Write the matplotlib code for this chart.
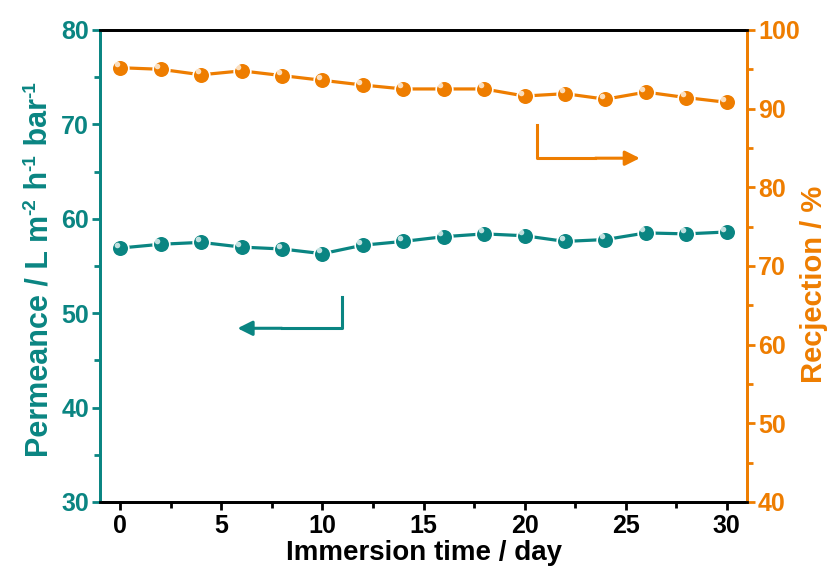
import matplotlib.pyplot as plt
from matplotlib.transforms import ScaledTranslation, IdentityTransform

plt.rcParams['font.family'] = ['Liberation Sans', 'DejaVu Sans']
plt.rcParams['font.weight'] = 'bold'

days = [0, 2, 4, 6, 8, 10, 12, 14, 16, 18, 20, 22, 24, 26, 28, 30]
permeance = [56.9, 57.3, 57.5, 57.0, 56.8, 56.3, 57.2, 57.6,
             58.1, 58.4, 58.2, 57.6, 57.8, 58.5, 58.4, 58.6]
rejection = [95.2, 95.0, 94.3, 94.8, 94.2, 93.6, 93.0, 92.5,
             92.5, 92.5, 91.6, 91.9, 91.2, 92.1, 91.4, 90.8]

xlabel = 'Immersion time / day'
ylabel_left = [('Permeance / L m', 0), ('-2', 1), (' h', 0), ('-1', 1), (' bar', 0), ('-1', 1)]
ylabel_right = 'Recjection / %'

teal = '#0a8582'
orange = '#ee7d00'

fig = plt.figure(figsize=(8.3, 5.76), dpi=100)
ax = fig.add_axes([0.1205, 0.1285, 0.7795, 0.8195])
ax2 = ax.twinx()

def sphere_line(a, x, y, c):
    a.plot(x, y, '-', color=c, lw=2.3, marker='o', ms=12,
           mfc=c, mec='white', mew=1.2, zorder=3)
    # little highlight for the ball look
    off = a.transData + ScaledTranslation(-2.5 / 72, 2.5 / 72, fig.dpi_scale_trans)
    a.plot(x, y, 'o', ms=4, color='white', alpha=0.75, mec='none',
           transform=off, zorder=4)

sphere_line(ax, days, permeance, teal)
sphere_line(ax2, days, rejection, orange)

ax.set_xlim(-1, 31)
ax.set_ylim(30, 80)
ax2.set_ylim(40, 100)
ax.set_xticks([0, 5, 10, 15, 20, 25, 30])
ax.set_xticks([2.5, 7.5, 12.5, 17.5, 22.5, 27.5], minor=True)
ax.set_yticks([30, 40, 50, 60, 70, 80])
ax.set_yticks([35, 45, 55, 65, 75], minor=True)
ax2.set_yticks([40, 50, 60, 70, 80, 90, 100])
ax2.set_yticks([45, 55, 65, 75, 85, 95], minor=True)

for a in (ax, ax2):
    for s in a.spines.values():
        s.set_linewidth(2)
ax.spines['left'].set_color(teal)
ax2.spines['left'].set_color(teal)
ax.spines['right'].set_color(orange)
ax2.spines['right'].set_color(orange)

ax.tick_params(axis='x', which='both', direction='out', width=2, labelsize=18, pad=3)
ax.tick_params(axis='x', which='major', length=6)
ax.tick_params(axis='x', which='minor', length=4)
ax.tick_params(axis='y', which='both', direction='out', width=2, color=teal,
               labelcolor=teal, labelsize=18, pad=2)
ax.tick_params(axis='y', which='major', length=6)
ax.tick_params(axis='y', which='minor', length=4)
ax2.tick_params(axis='y', which='both', direction='out', width=2, color=orange,
                labelcolor=orange, labelsize=18, pad=2)
ax2.tick_params(axis='y', which='major', length=6)
ax2.tick_params(axis='y', which='minor', length=4)
for lab in ax.get_xticklabels() + ax.get_yticklabels() + ax2.get_yticklabels():
    lab.set_fontweight('bold')

ax.set_xlabel(xlabel, fontsize=20, fontweight='bold', labelpad=1)

# left label built piece by piece so the superscripts are plain hyphens
renderer = fig.canvas.get_renderer()
px, py = 47, 576 - 457
size = 22
for txt, sup in ylabel_left:
    fs = size * 0.62 if sup else size
    t = fig.text(px - (12 if sup else 0), py, txt, rotation=90,
                 rotation_mode='anchor', ha='left', va='baseline',
                 fontsize=fs, fontweight='bold', color=teal,
                 transform=IdentityTransform())
    py += t.get_window_extent(renderer).height

fig.text(822, 576 - 383, ylabel_right, rotation=90, rotation_mode='anchor',
         ha='left', va='baseline', fontsize=21, fontweight='bold',
         color=orange, transform=IdentityTransform())

# direction arrows
ax.plot([10.95, 10.95, 8], [51.7, 48.4, 48.4], color=teal, lw=2.2)
ax.annotate('', xy=(5.8, 48.4), xytext=(8, 48.4),
            arrowprops=dict(arrowstyle='-|>', color=teal, lw=2.2,
                            mutation_scale=22, shrinkA=0, shrinkB=0))
ax2.plot([20.6, 20.6, 23.5], [87.9, 83.7, 83.7], color=orange, lw=2.2)
ax2.annotate('', xy=(25.7, 83.7), xytext=(23.5, 83.7),
             arrowprops=dict(arrowstyle='-|>', color=orange, lw=2.2,
                             mutation_scale=22, shrinkA=0, shrinkB=0))

fig.savefig('out.png', dpi=100)
